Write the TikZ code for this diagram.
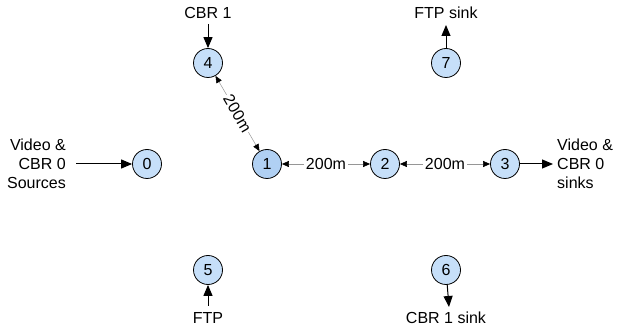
\documentclass[tikz,border=0pt]{standalone}
\usepackage{fontspec}
\setmainfont{Liberation Sans}
\usetikzlibrary{arrows.meta}
\definecolor{nodefill}{RGB}{198,223,249}
\definecolor{nodefillB}{RGB}{176,208,243}
\definecolor{linkgray}{RGB}{150,150,150}
\begin{document}
\begin{tikzpicture}[x=1pt,y=-1pt,
  every node/.style={font=\fontsize{16}{19}\selectfont},
  host/.style={circle,draw=black,line width=0.8pt,fill=nodefill,minimum size=29pt,inner sep=0pt},
  lbl/.style={inner sep=0pt,align=center},
  flow/.style={draw=black,line width=1pt,-{Triangle[length=11pt,width=9pt]}},
  link/.style={draw=linkgray,line width=0.5pt,{Triangle[length=7pt,width=6pt,color=black]}-{Triangle[length=7pt,width=6pt,color=black]}},
  dist/.style={fill=white,inner sep=1.5pt}]
\useasboundingbox (0,0) rectangle (619,331);
\node[host] (n0) at (147,164) {0};
\node[host,fill=nodefillB] (n1) at (267,164) {1};
\node[host] (n2) at (385,164) {2};
\node[host] (n3) at (505,164) {3};
\node[host] (n4) at (208,63) {4};
\node[host] (n5) at (208,270) {5};
\node[host] (n6) at (446,270) {6};
\node[host] (n7) at (446,63) {7};
% links
\draw[link] (n4) -- node[dist,sloped] {200m} (n1);
\draw[link] (n1) -- node[dist] {200m} (n2);
\draw[link] (n2) -- node[dist] {200m} (n3);
% labels
\node[lbl,align=right,anchor=east] (src) at (66,164) {Video \&\\CBR 0\\Sources};
\node[lbl,align=left,anchor=west] (snk) at (557,164) {Video \&\\CBR 0\\sinks};
\node[lbl] (cbr1) at (208,13) {CBR 1};
\node[lbl] (ftpsink) at (446,13) {FTP sink};
\node[lbl] (ftp) at (208,318) {FTP};
\node[lbl] (cbrsink) at (446,318) {CBR 1 sink};
\coordinate (srcend) at (76,164);
\coordinate (snkend) at (553,164);
\coordinate (cbr1end) at (208,24);
\coordinate (ftpsinkend) at (446,25);
\coordinate (ftpend) at (208,306);
\coordinate (cbrsinkend) at (449,307);
% flows
\draw[flow] (srcend) -- (n0);
\draw[flow] (n3) -- (snkend);
\draw[flow] (cbr1end) -- (n4);
\draw[flow] (n7) -- (ftpsinkend);
\draw[flow] (ftpend) -- (n5);
\draw[flow] (n6) -- (cbrsinkend);
\end{tikzpicture}
\end{document}
